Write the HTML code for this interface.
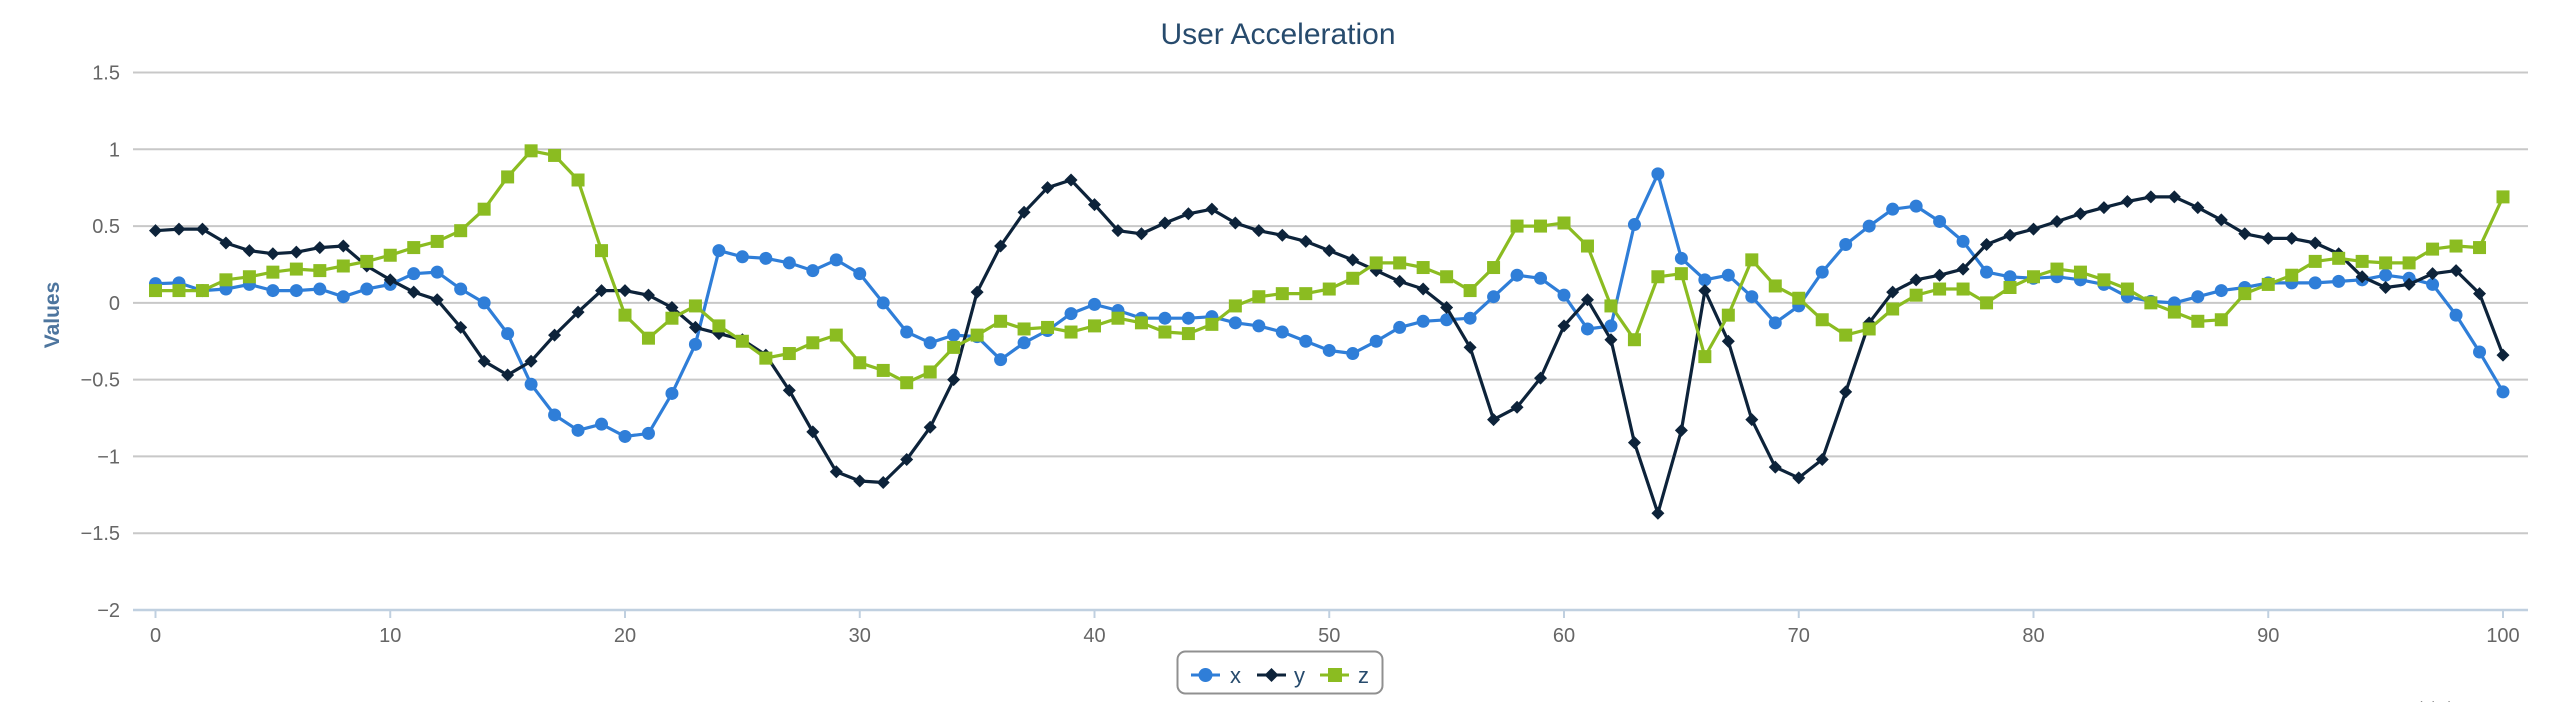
<!DOCTYPE html>
<html><head><meta charset="utf-8">
<style>
html,body{margin:0;padding:0;background:#fff;}
body{width:2560px;height:702px;overflow:hidden;}
svg{display:block;font-family:"Liberation Sans","DejaVu Sans",sans-serif;}
</style></head>
<body>
<svg id="chart" width="2560" height="702" viewBox="0 0 2560 702" xmlns="http://www.w3.org/2000/svg">
<text x="1278" y="44" text-anchor="middle" font-size="30" fill="#274b6d">User Acceleration</text>
<text transform="translate(59,315) rotate(-90)" text-anchor="middle" font-size="21" font-weight="bold" fill="#4d759e">Values</text>
<g id="grid"></g>
<g id="yticks"></g>
<g id="xaxis"></g>
<g id="series"></g>
<g>
<rect x="1177.5" y="651.5" width="205" height="42" rx="8" fill="#fff" stroke="#909090" stroke-width="2"/>
<g>
<line x1="1191" y1="675" x2="1220" y2="675" stroke="#2f7ed8" stroke-width="3"/>
<circle cx="1205.5" cy="675" r="7" fill="#2f7ed8"/>
<text x="1230" y="683" font-size="22" fill="#274b6d">x</text></g>
<g>
<line x1="1257" y1="675" x2="1286" y2="675" stroke="#0d233a" stroke-width="3"/>
<path d="M1271.5 668 L1278.5 675 L1271.5 682 L1264.5 675 Z" fill="#0d233a"/>
<text x="1294" y="683" font-size="22" fill="#274b6d">y</text></g>
<g>
<line x1="1320" y1="675" x2="1349" y2="675" stroke="#8bbc21" stroke-width="3"/>
<rect x="1328" y="668" width="14" height="14" fill="#8bbc21"/>
<text x="1358" y="683" font-size="22" fill="#274b6d">z</text></g>
</g>
<text x="2409" y="712" font-size="15" fill="#909090">Highcharts.com</text>
</svg>
<script>
const categories = Array.from({length:101},(_,i)=>i);
const xValues = [0.125,0.13,0.08,0.09,0.12,0.08,0.08,0.09,0.04,0.09,0.12,0.19,0.20,0.09,0.0,-0.20,-0.53,-0.73,-0.83,-0.79,-0.87,-0.85,-0.59,-0.27,0.34,0.30,0.29,0.26,0.21,0.28,0.19,0.0,-0.19,-0.26,-0.21,-0.22,-0.37,-0.26,-0.18,-0.07,-0.01,-0.05,-0.10,-0.10,-0.10,-0.09,-0.13,-0.15,-0.19,-0.25,-0.31,-0.33,-0.25,-0.16,-0.12,-0.11,-0.10,0.04,0.18,0.16,0.05,-0.17,-0.15,0.51,0.84,0.29,0.15,0.18,0.04,-0.13,-0.02,0.20,0.38,0.50,0.61,0.63,0.53,0.40,0.20,0.17,0.16,0.17,0.15,0.12,0.04,0.01,0.0,0.04,0.08,0.10,0.13,0.13,0.13,0.14,0.15,0.18,0.16,0.12,-0.08,-0.32,-0.58];
const yValues = [0.47,0.48,0.48,0.39,0.34,0.32,0.33,0.36,0.37,0.24,0.15,0.07,0.02,-0.16,-0.38,-0.47,-0.38,-0.21,-0.06,0.08,0.08,0.05,-0.03,-0.16,-0.20,-0.24,-0.34,-0.57,-0.84,-1.10,-1.16,-1.17,-1.02,-0.81,-0.50,0.07,0.37,0.59,0.75,0.80,0.64,0.47,0.45,0.52,0.58,0.61,0.52,0.47,0.44,0.40,0.34,0.28,0.21,0.14,0.09,-0.03,-0.29,-0.76,-0.68,-0.49,-0.15,0.02,-0.24,-0.91,-1.37,-0.83,0.08,-0.25,-0.76,-1.07,-1.14,-1.02,-0.58,-0.13,0.07,0.15,0.18,0.22,0.38,0.44,0.48,0.53,0.58,0.62,0.66,0.69,0.69,0.62,0.54,0.45,0.42,0.42,0.39,0.32,0.17,0.10,0.12,0.19,0.21,0.06,-0.34];
const zValues = [0.08,0.08,0.08,0.15,0.17,0.20,0.22,0.21,0.24,0.27,0.31,0.36,0.40,0.47,0.61,0.82,0.99,0.96,0.80,0.34,-0.08,-0.23,-0.10,-0.02,-0.15,-0.25,-0.36,-0.33,-0.26,-0.21,-0.39,-0.44,-0.52,-0.45,-0.29,-0.21,-0.12,-0.17,-0.16,-0.19,-0.15,-0.10,-0.13,-0.19,-0.20,-0.14,-0.02,0.04,0.06,0.06,0.09,0.16,0.26,0.26,0.23,0.17,0.08,0.23,0.50,0.50,0.52,0.37,-0.02,-0.24,0.17,0.19,-0.35,-0.08,0.28,0.11,0.03,-0.11,-0.21,-0.17,-0.04,0.05,0.09,0.09,0.0,0.10,0.17,0.22,0.20,0.15,0.09,0.0,-0.06,-0.12,-0.11,0.06,0.12,0.18,0.27,0.29,0.27,0.26,0.26,0.35,0.37,0.36,0.69];
const yTickValues = [1.5,1,0.5,0,-0.5,-1,-1.5,-2];
const yTickLabels = ["1.5","1","0.5","0","\u22120.5","\u22121","\u22121.5","\u22122"];
const xTickValues = [0,10,20,30,40,50,60,70,80,90,100];

const NS="http://www.w3.org/2000/svg";
const X0=155.5, X1=2503, PL=133, PR=2528, YTOP=72.5, YBOT=610, VMAX=1.5, VMIN=-2;
function xs(i){return X0+(i-0)/(100-0)*(X1-X0);}
function ys(v){return YTOP+(VMAX-v)/(VMAX-VMIN)*(YBOT-YTOP);}
function mk(tag,attrs,parent){const e=document.createElementNS(NS,tag);for(const k in attrs)e.setAttribute(k,attrs[k]);parent.appendChild(e);return e;}

const grid=document.getElementById('grid'), yt=document.getElementById('yticks'), xa=document.getElementById('xaxis'), ser=document.getElementById('series');
yTickValues.forEach((v,k)=>{
  if(v!==VMIN){
    const l=mk('line',{x1:PL,x2:PR,y1:ys(v),y2:ys(v),stroke:'#c8c8c8','stroke-width':2},grid);
    
    
  }
  const t=mk('text',{x:120,y:ys(v)+7,'text-anchor':'end','font-size':20,fill:'#666'},yt);
  t.textContent=yTickLabels[k];
  
  
});
const ax=mk('line',{x1:PL,x2:PR,y1:YBOT,y2:YBOT,stroke:'#c0d0e0','stroke-width':2.5},xa);


xTickValues.forEach(v=>{
  const tk=mk('line',{x1:xs(v),x2:xs(v),y1:YBOT,y2:YBOT+8,stroke:'#c0d0e0','stroke-width':2},xa);
  
  
  const t=mk('text',{x:xs(v),y:YBOT+32,'text-anchor':'middle','font-size':20,fill:'#666'},xa);
  t.textContent=String(v);
  
  
});

function drawSeries(vals,color,shape,name){
  const g=mk('g',{},ser);
  
  
  const pts=vals.map((v,i)=>xs(categories[i]).toFixed(1)+','+ys(v).toFixed(1)).join(' ');
  const pl=mk('polyline',{points:pts,fill:'none',stroke:color,'stroke-width':3.2,'stroke-linejoin':'round'},g);
  
  
  vals.forEach((v,i)=>{
    const cx=xs(categories[i]), cy=ys(v); let m;
    if(shape==='circle') m=mk('circle',{cx:cx,cy:cy,r:6.5,fill:color},g);
    else if(shape==='diamond') m=mk('path',{d:`M${cx} ${cy-6.5} L${cx+6.5} ${cy} L${cx} ${cy+6.5} L${cx-6.5} ${cy} Z`,fill:color},g);
    else m=mk('rect',{x:cx-6.5,y:cy-6.5,width:13,height:13,fill:color},g);
    
    
  });
}
drawSeries(xValues,'#2f7ed8','circle','x');
drawSeries(yValues,'#0d233a','diamond','y');
drawSeries(zValues,'#8bbc21','square','z');
</script>
</body></html>
